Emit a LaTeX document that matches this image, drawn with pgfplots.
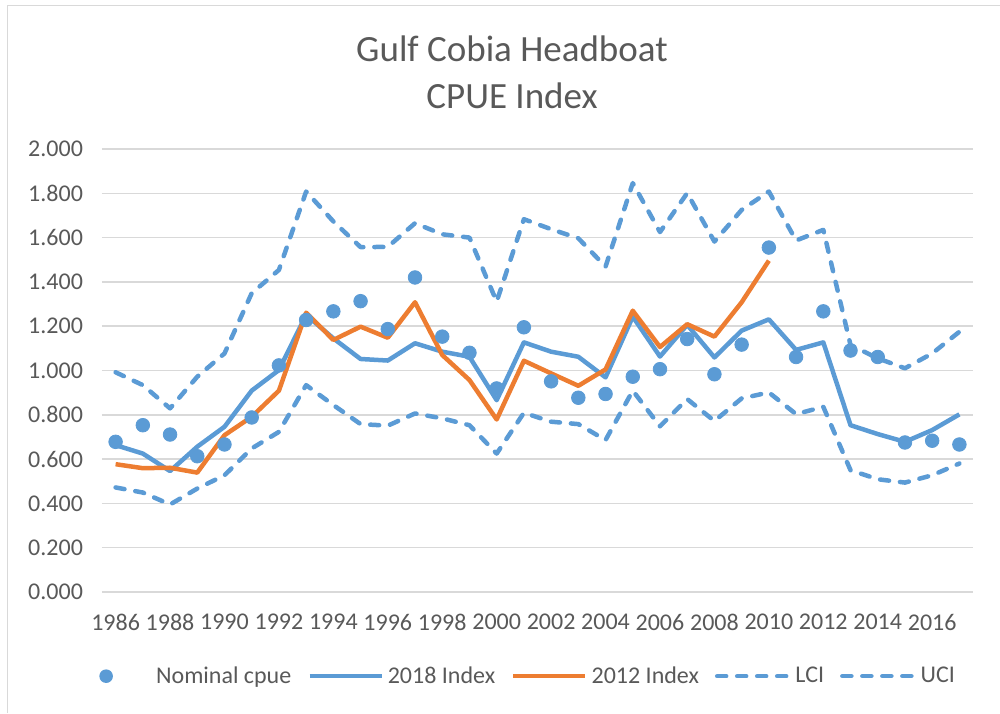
\documentclass[border=0pt]{standalone}
\usepackage{fontspec}
\setmainfont{Carlito}
\usepackage{pgfplots}
\pgfplotsset{compat=1.18}
\definecolor{cblue}{HTML}{5B9BD5}
\definecolor{corange}{HTML}{ED7D31}
\definecolor{cgrid}{HTML}{D9D9D9}
\definecolor{ctext}{HTML}{595959}
\begin{document}
\begin{tikzpicture}
\path[use as bounding box] (0pt,0pt) rectangle (500pt,356.5pt);
\draw[cgrid, line width=0.75pt] (3.65pt,0pt) -- (3.65pt,353.85pt) -- (500pt,353.85pt);
\node[align=center, text=ctext, font=\fontsize{18.5}{23.5}\selectfont] at (256pt,320.5pt) {Gulf Cobia Headboat\\CPUE Index};
\begin{axis}[
  at={(51pt,60.5pt)}, anchor=south west,
  scale only axis, width=435.5pt, height=221.5pt,
  xmin=1985.5, xmax=2017.5, ymin=0, ymax=2,
  xtick={1986,1988,...,2016}, ytick={0,0.2,...,2.0},
  axis line style={draw=none},
  major tick length=0pt,
  ymajorgrids, grid style={cgrid, line width=0.75pt},
  tick label style={text=ctext},
  /pgf/number format/assume math mode=true,
  x tick label style={font=\fontsize{12}{14.4}\selectfont, /pgf/number format/1000 sep={}, yshift=-7.5pt},
  y tick label style={font=\fontsize{12}{14.4}\selectfont, /pgf/number format/.cd, fixed, fixed zerofill, precision=3, /tikz/.cd, xshift=-6pt},
  legend columns=5,
  legend style={at={(0.4736,-0.19)}, anchor=center, draw=none, fill=none,
    font=\fontsize{12}{14.4}\selectfont, text=ctext,
    /tikz/every even column/.append style={column sep=6pt}},
  legend cell align=left,
]
\addplot[only marks, mark=*, mark size=3.4pt, draw=cblue, fill=cblue, forget plot] coordinates {
(1986,0.678)(1987,0.753)(1988,0.711)(1989,0.613)(1990,0.666)(1991,0.788)(1992,1.023)(1993,1.228)
(1994,1.267)(1995,1.313)(1996,1.187)(1997,1.420)(1998,1.153)(1999,1.080)(2000,0.919)(2001,1.195)
(2002,0.951)(2003,0.877)(2004,0.894)(2005,0.972)(2006,1.006)(2007,1.142)(2008,0.983)(2009,1.117)
(2010,1.555)(2011,1.061)(2012,1.267)(2013,1.090)(2014,1.061)(2015,0.675)(2016,0.683)(2017,0.666)};
\addlegendimage{draw=none, legend image code/.code={\fill[cblue, draw=none] (18pt,0pt) circle (3.4pt); \path[draw=none, fill=none] (0pt,-1pt) rectangle (41pt,1pt);}}
\addlegendentry{Nominal cpue}
\addplot[cblue, line width=2.25pt, line join=round, no markers,
  legend image code/.code={\draw[cblue, line width=2.25pt] (0,0) -- (36pt,0);}] coordinates {
(1986,0.663)(1987,0.625)(1988,0.546)(1989,0.656)(1990,0.746)(1991,0.909)(1992,1.002)(1993,1.251)
(1994,1.145)(1995,1.052)(1996,1.045)(1997,1.123)(1998,1.085)(1999,1.062)(2000,0.866)(2001,1.127)
(2002,1.085)(2003,1.062)(2004,0.969)(2005,1.243)(2006,1.063)(2007,1.206)(2008,1.059)(2009,1.180)
(2010,1.231)(2011,1.093)(2012,1.127)(2013,0.753)(2014,0.713)(2015,0.678)(2016,0.731)(2017,0.802)};
\addlegendentry{2018 Index}
\addplot[corange, line width=2.25pt, line join=round, no markers,
  legend image code/.code={\draw[corange, line width=2.25pt] (0,0) -- (36pt,0);}] coordinates {
(1986,0.577)(1987,0.559)(1988,0.561)(1989,0.539)(1990,0.708)(1991,0.791)(1992,0.909)(1993,1.261)
(1994,1.138)(1995,1.198)(1996,1.148)(1997,1.308)(1998,1.070)(1999,0.957)(2000,0.779)(2001,1.044)
(2002,0.987)(2003,0.931)(2004,1.005)(2005,1.270)(2006,1.106)(2007,1.209)(2008,1.153)(2009,1.308)
(2010,1.496)};
\addlegendentry{2012 Index}
\addplot[cblue, line width=2.25pt, line join=round, line cap=round, dash pattern=on 4.5pt off 5.5pt, no markers,
  legend image code/.code={\draw[cblue, line width=2.25pt, line cap=round, dash pattern=on 4.5pt off 5.5pt] (0,0) -- (36pt,0);}] coordinates {
(1986,0.472)(1987,0.449)(1988,0.395)(1989,0.467)(1990,0.527)(1991,0.648)(1992,0.723)(1993,0.934)
(1994,0.844)(1995,0.758)(1996,0.751)(1997,0.806)(1998,0.784)(1999,0.753)(2000,0.625)(2001,0.809)
(2002,0.769)(2003,0.758)(2004,0.686)(2005,0.909)(2006,0.748)(2007,0.871)(2008,0.772)(2009,0.874)
(2010,0.901)(2011,0.803)(2012,0.836)(2013,0.550)(2014,0.509)(2015,0.494)(2016,0.527)(2017,0.580)};
\addlegendentry{LCI}
\addplot[cblue, line width=2.25pt, line join=round, line cap=round, dash pattern=on 4.5pt off 5.5pt, no markers,
  legend image code/.code={\draw[cblue, line width=2.25pt, line cap=round, dash pattern=on 4.5pt off 5.5pt] (0,0) -- (36pt,0);}] coordinates {
(1986,0.992)(1987,0.934)(1988,0.829)(1989,0.972)(1990,1.077)(1991,1.349)(1992,1.454)(1993,1.808)
(1994,1.673)(1995,1.557)(1996,1.558)(1997,1.665)(1998,1.615)(1999,1.600)(2000,1.311)(2001,1.683)
(2002,1.638)(2003,1.597)(2004,1.469)(2005,1.846)(2006,1.625)(2007,1.801)(2008,1.582)(2009,1.725)
(2010,1.808)(2011,1.587)(2012,1.635)(2013,1.115)(2014,1.055)(2015,1.010)(2016,1.077)(2017,1.175)};
\addlegendentry{UCI}
\end{axis}
\end{tikzpicture}
\end{document}
